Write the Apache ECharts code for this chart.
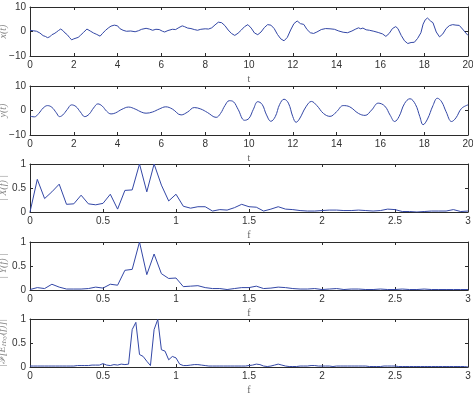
<!DOCTYPE html>
<html>
<head>
<meta charset="utf-8">
<script src="https://cdn.jsdelivr.net/npm/echarts@6/dist/echarts.min.js"></script>
<style>
  html, body { margin: 0; padding: 0; background: #fff; }
  #chart { width: 473px; height: 394px; }
</style>
</head>
<body>
<div id="chart"></div>
<script>
// x(t): time samples and values
const xTime = [0, 0.15, 0.3, 0.45, 0.6, 0.7, 0.8, 0.9, 1.0, 1.1, 1.2, 1.3, 1.4, 1.5, 1.6, 1.7, 1.8, 1.9, 2.0, 2.1,
  2.2, 2.3, 2.45, 2.6, 2.75, 2.9, 3.05, 3.2, 3.3, 3.45, 3.6, 3.7, 3.85, 4.0, 4.1, 4.25, 4.4, 4.6, 4.8, 4.95,
  5.1, 5.3, 5.45, 5.6, 5.75, 5.9, 6.05, 6.15, 6.3, 6.5, 6.65, 6.8, 6.95, 7.05, 7.2, 7.35, 7.5, 7.65, 7.8, 8.0,
  8.15, 8.3, 8.45, 8.6, 8.75, 8.9, 9.05, 9.2, 9.35, 9.5, 9.65, 9.8, 9.95, 10.1, 10.25, 10.4, 10.55, 10.7, 10.85, 11.0,
  11.15, 11.3, 11.45, 11.6, 11.75, 11.9, 12.05, 12.2, 12.35, 12.5, 12.65, 12.8, 12.95, 13.1, 13.3, 13.5, 13.7, 13.9, 14.1, 14.3,
  14.5, 14.7, 14.85, 15.0, 15.1, 15.2, 15.35, 15.5, 15.7, 15.9, 16.1, 16.25, 16.4, 16.55, 16.7, 16.8, 16.95, 17.1, 17.25, 17.4,
  17.55, 17.7, 17.85, 17.95, 18.05, 18.15, 18.3, 18.4, 18.55, 18.7, 18.85, 19.0, 19.15, 19.3, 19.45, 19.6, 19.75, 19.9, 20.0]
const xValues = [0.5, 0.3, 0.1, -0.6, -1.7, -2.0, -2.5, -2.2, -1.3, -0.9, -0.3, 0.4, 1.0, 0.4, -0.6, -1.3, -2.4, -3.4, -3.0, -2.7,
  -2.4, -1.6, -0.3, 1.0, 0.2, -0.6, -1.2, -1.9, -0.9, 0.5, 1.6, 2.2, 2.6, 2.3, 1.2, 0.5, 0.1, 0.2, -0.1, 0.3,
  0.9, 1.3, 1.0, 0.5, 0.9, 0.8, 0.1, -0.2, 0.4, 0.9, 0.8, 1.6, 2.3, 2.0, 1.4, 1.2, 0.8, 0.5, 0.9, 1.1,
  1.0, 1.5, 2.7, 3.8, 3.6, 2.4, 0.6, -0.8, -1.6, -0.7, 0.6, 2.0, 2.8, 1.4, -0.6, -1.3, -0.2, 1.6, 2.8, 2.6,
  1.2, -1.2, -3.0, -3.8, -2.4, 0.6, 3.2, 4.3, 3.2, 2.9, 0.8, -0.5, -0.8, -0.2, 0.8, 1.2, 1.1, 0.9, 0.2, -0.3,
  -0.5, 0.2, 0.9, 1.5, 1.1, 1.4, 0.7, 0.5, 0.1, -0.4, -1.0, -2.0, -0.8, 1.2, 2.0, 1.2, -1.6, -3.8, -4.9, -4.5,
  -4.4, -2.8, -0.5, 3.0, 4.8, 5.5, 4.2, 3.6, -0.2, -2.2, -1.0, 1.2, 2.4, 2.8, 2.6, 2.5, 1.0, -0.6, -1.6]

// y(t): time samples and values
const yTime = [0, 0.2, 0.4, 0.6, 0.8, 1.0, 1.2, 1.35, 1.5, 1.7, 1.9, 2.1, 2.3, 2.5, 2.7, 2.9, 3.1, 3.3, 3.5, 3.7,
  3.9, 4.2, 4.5, 4.8, 5.1, 5.3, 5.6, 5.9, 6.2, 6.5, 6.9, 7.2, 7.5, 7.8, 8.1, 8.5, 8.7, 8.9, 9.1, 9.3,
  9.5, 9.8, 10.0, 10.2, 10.4, 10.6, 10.8, 11.0, 11.2, 11.4, 11.6, 11.8, 12.0, 12.15, 12.3, 12.6, 12.85, 13.1, 13.4, 13.7,
  14.0, 14.3, 14.6, 15.0, 15.3, 15.6, 15.9, 16.2, 16.45, 16.65, 16.85, 17.1, 17.35, 17.6, 17.8, 17.95, 18.15, 18.4, 18.6, 18.8,
  19.0, 19.25, 19.45, 19.7, 20.0]
const yValues = [-2.3, -2.6, -1.2, 1.0, 2.0, 1.3, -0.9, -2.5, -1.8, 0.4, 2.3, 1.6, -0.6, -2.5, -1.5, 1.0, 2.7, 1.8, -0.3, -1.4,
  -1.0, 0.5, 1.4, 0.6, -0.7, -1.1, -0.6, 0.6, 1.5, 0.6, -1.8, -0.6, 1.2, 0.6, -0.8, -2.8, -1.2, 2.0, 4.0, 3.5,
  0.5, -4.0, -3.2, 0.5, 3.6, 2.5, -1.8, -4.4, -2.5, 2.5, 4.6, 3.0, -2.5, -4.8, -3.5, 1.5, 3.7, 2.0, -1.2, -2.4,
  -0.5, 2.0, 1.5, -1.2, -2.0, 0.2, 3.0, 1.8, -2.0, -4.5, -2.5, 2.8, 4.8, 2.5, -2.5, -5.8, -3.5, 2.0, 5.0, 3.5,
  -0.5, -4.5, -3.0, 0.8, 2.3]

// spectra, sampled every 0.05 (|X|, |Y|) and every 0.025 (|F[E]|)
const specStep = 0.05
const specX = [0.00, 0.68, 0.28, 0.42, 0.58, 0.16, 0.17, 0.35, 0.17, 0.15, 0.18, 0.37, 0.06, 0.45, 0.46, 1.00, 0.42, 1.00, 0.56, 0.23,
  0.37, 0.12, 0.08, 0.11, 0.11, 0.02, 0.05, 0.04, 0.09, 0.16, 0.11, 0.10, 0.02, 0.06, 0.11, 0.06, 0.05, 0.03, 0.02, 0.02,
  0.03, 0.04, 0.04, 0.03, 0.03, 0.04, 0.03, 0.02, 0.03, 0.06, 0.05, 0.01, 0.01, 0.00, 0.01, 0.02, 0.02, 0.02, 0.05, 0.01, 0.02]
const specY = [0.01, 0.05, 0.03, 0.12, 0.06, 0.02, 0.02, 0.02, 0.03, 0.06, 0.04, 0.12, 0.10, 0.41, 0.43, 1.00, 0.32, 0.75, 0.34, 0.24,
  0.25, 0.07, 0.08, 0.09, 0.05, 0.03, 0.03, 0.01, 0.03, 0.05, 0.05, 0.08, 0.03, 0.04, 0.06, 0.05, 0.03, 0.02, 0.02, 0.03,
  0.01, 0.02, 0.03, 0.01, 0.02, 0.02, 0.01, 0.01, 0.02, 0.01, 0.01, 0.02, 0.01, 0.01, 0.02, 0.01, 0.01, 0.01, 0.01, 0.01, 0.01]
const cohStep = 0.025
const specE = [0.02, 0.02, 0.02, 0.02, 0.02, 0.02, 0.02, 0.02, 0.02, 0.02, 0.02, 0.02, 0.02, 0.03, 0.03, 0.03, 0.03, 0.04, 0.04, 0.04,
  0.07, 0.04, 0.03, 0.05, 0.04, 0.06, 0.05, 0.06, 0.78, 0.93, 0.26, 0.22, 0.12, 0.03, 0.78, 0.99, 0.36, 0.33, 0.15, 0.22,
  0.19, 0.06, 0.03, 0.03, 0.04, 0.05, 0.05, 0.04, 0.03, 0.02, 0.02, 0.02, 0.02, 0.02, 0.02, 0.02, 0.02, 0.02, 0.02, 0.02,
  0.03, 0.04, 0.06, 0.05, 0.02, 0.01, 0.02, 0.04, 0.06, 0.04, 0.02, 0.01, 0.01, 0.01, 0.02, 0.02, 0.02, 0.03, 0.03, 0.02,
  0.02, 0.02, 0.02, 0.01, 0.02, 0.02, 0.02, 0.02, 0.02, 0.02, 0.02, 0.02, 0.02, 0.01, 0.01, 0.01, 0.01, 0.02, 0.02, 0.02,
  0.02, 0.01, 0.01, 0.01, 0.01, 0.01, 0.01, 0.01, 0.01, 0.01, 0.01, 0.01, 0.01, 0.01, 0.01, 0.01, 0.01, 0.01, 0.01, 0.01, 0.00]

const timeTicks = { min: 0, max: 20, interval: 2 }
const freqTicks = { min: 0, max: 3, interval: 0.5 }
const ampTicks = { min: -10, max: 10, interval: 10 }
const unitTicks = { min: 0, max: 1, interval: 0.5 }

const pairs = (xs, ys) => ys.map((v, i) => [xs[i], v])
const onGrid = (ys, step) => ys.map((v, i) => [+(i * step).toFixed(3), v])

const panels = [
  { top: 7, height: 49, x: timeTicks, y: ampTicks, xName: 't', yName: 'x(t)', data: pairs(xTime, xValues), smooth: false },
  { top: 86, height: 49, x: timeTicks, y: ampTicks, xName: 't', yName: 'y(t)', data: pairs(yTime, yValues), smooth: 0.4 },
  { top: 164, height: 48, x: freqTicks, y: unitTicks, xName: 'f', yName: '| X(f) |', data: onGrid(specX, specStep), smooth: false },
  { top: 242, height: 48, x: freqTicks, y: unitTicks, xName: 'f', yName: '| Y(f) |', data: onGrid(specY, specStep), smooth: false },
  { top: 319, height: 48, x: freqTicks, y: unitTicks, xName: 'f', yName: '|ℱ[E{sub|Hxy}(f)]|', data: onGrid(specE, cohStep), smooth: false }
]

const frame = '#2b2b2b'
const labelColor = '#333'
const lineColor = '#3347a6'

const grid = []
const xAxis = []
const yAxis = []
const series = []

panels.forEach((p, i) => {
  grid.push({ left: 30, right: 5, top: p.top, height: p.height, outerBoundsMode: 'none', containLabel: false })
  // bottom axis with labels
  xAxis.push({
    type: 'value', gridIndex: i, min: p.x.min, max: p.x.max, interval: p.x.interval,
    name: p.xName, nameLocation: 'middle', nameGap: 18, nameMoveOverlap: false,
    nameTextStyle: { color: '#666', fontSize: 10, fontFamily: 'Liberation Serif' },
    axisLine: { show: true, onZero: false, lineStyle: { color: frame, width: 1 } },
    axisTick: { show: true, inside: true, length: 3, lineStyle: { color: frame } },
    axisLabel: { color: labelColor, fontSize: 10, margin: 4, fontFamily: 'Liberation Sans' },
    splitLine: { show: false }
  })
  // top box edge
  xAxis.push({
    type: 'value', gridIndex: i, position: 'top', min: p.x.min, max: p.x.max, interval: p.x.interval,
    axisLine: { show: true, onZero: false, lineStyle: { color: frame, width: 1 } },
    axisTick: { show: true, inside: true, length: 3, lineStyle: { color: frame } },
    axisLabel: { show: false },
    splitLine: { show: false }
  })
  yAxis.push({
    type: 'value', gridIndex: i, min: p.y.min, max: p.y.max, interval: p.y.interval,
    name: p.yName, nameLocation: 'middle', nameRotate: 90, nameGap: 22, nameMoveOverlap: false,
    nameTextStyle: {
      color: '#888', fontSize: 10, fontStyle: 'italic', fontFamily: 'Liberation Serif',
      rich: { sub: { fontSize: 7, fontStyle: 'italic', fontFamily: 'Liberation Serif', color: '#888', verticalAlign: 'bottom', padding: [4, 0, 0, 0] } }
    },
    axisLine: { show: true, onZero: false, lineStyle: { color: frame, width: 1 } },
    axisTick: { show: true, inside: true, length: 3, lineStyle: { color: frame } },
    axisLabel: {
      color: labelColor, fontSize: 10, margin: 4, fontFamily: 'Liberation Sans',
      formatter: v => String(v).replace('-', '\u2212')
    },
    splitLine: { show: false }
  })
  yAxis.push({
    type: 'value', gridIndex: i, position: 'right', min: p.y.min, max: p.y.max, interval: p.y.interval,
    axisLine: { show: true, onZero: false, lineStyle: { color: frame, width: 1 } },
    axisTick: { show: true, inside: true, length: 3, lineStyle: { color: frame } },
    axisLabel: { show: false },
    splitLine: { show: false }
  })
  series.push({
    type: 'line',
    xAxisIndex: 2 * i,
    yAxisIndex: 2 * i,
    data: p.data,
    smooth: p.smooth,
    showSymbol: false,
    animation: false,
    lineStyle: { color: lineColor, width: 1 }
  })
})

const chart = echarts.init(document.getElementById('chart'))
chart.setOption({
  backgroundColor: '#ffffff',
  animation: false,
  grid: grid,
  xAxis: xAxis,
  yAxis: yAxis,
  series: series
})
</script>
</body>
</html>
